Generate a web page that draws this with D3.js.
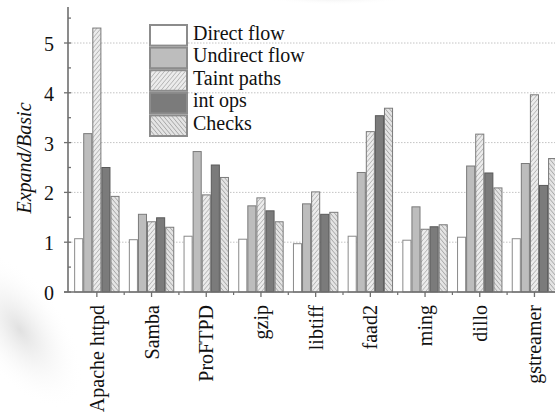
<!DOCTYPE html>
<html>
<head>
<meta charset="utf-8">
<script src="https://cdn.jsdelivr.net/npm/d3@7"></script>
<style>
  body { margin: 0; background: #fff; }
  svg { display: block; }
  text { font-family: "Liberation Serif", "DejaVu Serif", serif; fill: #111; }
</style>
</head>
<body>
<div id="chart"></div>
<script>
// data
var programs = ['Apache httpd', 'Samba', 'ProFTPD', 'gzip', 'libtiff', 'faad2', 'ming', 'dillo', 'gstreamer'];
var seriesNames = ['Direct flow', 'Undirect flow', 'Taint paths', 'int ops', 'Checks'];
var directFlow   = [1.07, 1.05, 1.12, 1.06, 0.97, 1.12, 1.04, 1.10, 1.07];
var undirectFlow = [3.18, 1.56, 2.82, 1.73, 1.77, 2.40, 1.71, 2.53, 2.58];
var taintPaths   = [5.30, 1.41, 1.95, 1.89, 2.01, 3.22, 1.26, 3.17, 3.96];
var intOps       = [2.50, 1.49, 2.55, 1.63, 1.56, 3.54, 1.31, 2.39, 2.14];
var checks       = [1.92, 1.30, 2.30, 1.41, 1.60, 3.69, 1.35, 2.09, 2.68];
var yTicks = [0, 1, 2, 3, 4, 5];

var allSeries = [directFlow, undirectFlow, taintPaths, intOps, checks];

var width = 555, height = 416;
var svg = d3.select('#chart').append('svg').attr('width', width).attr('height', height);

// patterns for the hatched series
var defs = svg.append('defs');
function hatch(id, angle, bg, line) {
  var p = defs.append('pattern').attr('id', id).attr('patternUnits', 'userSpaceOnUse')
    .attr('width', 3.2).attr('height', 3.2).attr('patternTransform', 'rotate(' + angle + ')');
  p.append('rect').attr('width', 3.2).attr('height', 3.2).attr('fill', bg);
  p.append('line').attr('x1', 0).attr('y1', 0).attr('x2', 0).attr('y2', 3.2)
    .attr('stroke', line).attr('stroke-width', 1.3);
}
hatch('taint', 40, '#ececec', '#a9a9a9');
hatch('checks', -40, '#e4e4e4', '#9a9a9a');

// faint smudge from the scan on the left side
var grad = defs.append('radialGradient').attr('id', 'smudge');
grad.append('stop').attr('offset', '0%').attr('stop-color', '#c8c8c8').attr('stop-opacity', 0.55);
grad.append('stop').attr('offset', '100%').attr('stop-color', '#fff').attr('stop-opacity', 0);
svg.append('ellipse').attr('cx', 20).attr('cy', 330).attr('rx', 45).attr('ry', 90)
  .attr('transform', 'rotate(-35,20,330)').attr('fill', 'url(#smudge)');
svg.append('ellipse').attr('cx', 335).attr('cy', -4).attr('rx', 75).attr('ry', 9)
  .attr('fill', 'url(#smudge)');

var fills = ['#ffffff', '#bdbdbd', 'url(#taint)', '#7b7b7b', 'url(#checks)'];
var strokes = ['#8a8a8a', '#7a7a7a', '#7a7a7a', '#5a5a5a', '#7a7a7a'];

var x0 = 68, y0 = 292;
var x = d3.scaleBand().domain(programs).range([x0 + 1.5, x0 + 1.5 + 9 * 54.7]).paddingInner(0.17).paddingOuter(0.085);
var xs = d3.scaleBand().domain(seriesNames).range([0, x.bandwidth()]);
var y = d3.scaleLinear().domain([0, 5.7]).range([y0, y0 - 5.7 * 49.8]);

// dotted grid
svg.append('g').selectAll('line').data(yTicks.slice(1)).enter().append('line')
  .attr('x1', x0).attr('x2', width).attr('y1', function (d) { return y(d); }).attr('y2', function (d) { return y(d); })
  .attr('stroke', '#c4c4c4').attr('stroke-width', 1).attr('stroke-dasharray', '1.5,1.5');

// bars
var groups = svg.append('g').selectAll('g').data(programs).enter().append('g')
  .attr('transform', function (d) { return 'translate(' + x(d) + ',0)'; });
groups.selectAll('rect')
  .data(function (d, i) { return allSeries.map(function (s, k) { return { k: k, v: s[i] }; }); })
  .enter().append('rect')
  .attr('x', function (d) { return xs(seriesNames[d.k]) + 0.5; })
  .attr('width', xs.bandwidth() - 1)
  .attr('y', function (d) { return y(d.v); })
  .attr('height', function (d) { return y0 - y(d.v); })
  .attr('fill', function (d) { return fills[d.k]; })
  .attr('stroke', function (d) { return strokes[d.k]; })
  .attr('stroke-width', 1);

// y axis
var yAxis = svg.append('g').attr('transform', 'translate(' + x0 + ',0)');
yAxis.append('line').attr('x1', 0).attr('x2', 0).attr('y1', 7).attr('y2', y0)
  .attr('stroke', '#6f6f6f').attr('stroke-width', 1.6);
yAxis.selectAll('.minor').data(d3.range(0.5, 5.6, 1)).enter().append('line')
  .attr('x1', 0).attr('x2', 3).attr('y1', function (d) { return y(d); }).attr('y2', function (d) { return y(d); })
  .attr('stroke', '#6f6f6f').attr('stroke-width', 1.3);
yAxis.selectAll('.major').data(yTicks).enter().append('line')
  .attr('x1', -4).attr('x2', 3).attr('y1', function (d) { return y(d); }).attr('y2', function (d) { return y(d); })
  .attr('stroke', '#6f6f6f').attr('stroke-width', 1.3);
yAxis.selectAll('text').data(yTicks).enter().append('text')
  .attr('x', -14).attr('y', function (d) { return y(d) + 8; })
  .attr('text-anchor', 'end').style('font-size', '20px')
  .text(function (d) { return d; });

svg.append('text').attr('transform', 'translate(31,158) rotate(-90)')
  .attr('text-anchor', 'middle').style('font-size', '20px').style('font-style', 'italic')
  .text('Expand/Basic');

// x axis
var xAxis = svg.append('g').attr('transform', 'translate(0,' + y0 + ')');
xAxis.append('line').attr('x1', x0 - 4).attr('x2', width).attr('y1', 0).attr('y2', 0)
  .attr('stroke', '#6f6f6f').attr('stroke-width', 1.6);
xAxis.selectAll('.tick').data(programs).enter().append('line')
  .attr('x1', function (d) { return x(d) + x.bandwidth() / 2; })
  .attr('x2', function (d) { return x(d) + x.bandwidth() / 2; })
  .attr('y1', 0).attr('y2', 5).attr('stroke', '#6f6f6f').attr('stroke-width', 1.3);
xAxis.selectAll('.bound').data(programs.slice(1)).enter().append('line')
  .attr('x1', function (d) { return x(d) - x.step() * x.paddingInner() / 2; })
  .attr('x2', function (d) { return x(d) - x.step() * x.paddingInner() / 2; })
  .attr('y1', 0).attr('y2', 3).attr('stroke', '#6f6f6f').attr('stroke-width', 1.2);
xAxis.selectAll('text').data(programs).enter().append('text')
  .attr('transform', function (d) { return 'translate(' + (x(d) + x.bandwidth() / 2 + 7) + ',13) rotate(-90)'; })
  .attr('text-anchor', 'end').style('font-size', '20px')
  .text(function (d) { return d; });

// legend
var legend = svg.append('g').attr('transform', 'translate(149,24)');
var rows = legend.selectAll('g').data(seriesNames).enter().append('g')
  .attr('transform', function (d, i) { return 'translate(0,' + (i * 22.6) + ')'; });
rows.append('rect').attr('x', 1).attr('y', 1).attr('width', 37).attr('height', 20.6)
  .attr('fill', function (d, i) { return fills[i]; })
  .attr('stroke', '#8c8c8c').attr('stroke-width', 2);
rows.append('text').attr('x', 44).attr('y', 15.5).style('font-size', '20px')
  .text(function (d) { return d; });
</script>
</body>
</html>
